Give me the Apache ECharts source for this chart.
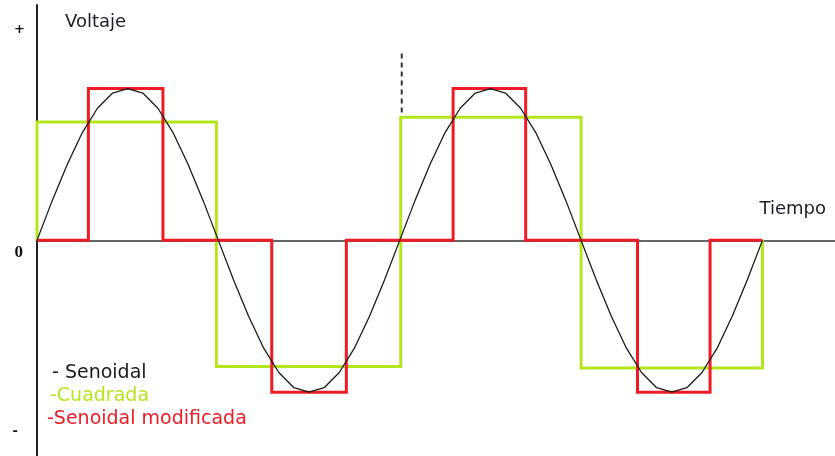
<!DOCTYPE html>
<html>
<head>
<meta charset="utf-8">
<title>Voltaje / Tiempo</title>
<script src="https://cdn.jsdelivr.net/npm/echarts@6/dist/echarts.min.js"></script>
<style>
  html, body { margin: 0; background: #fff; }
  #chart { width: 835px; height: 456px; }
</style>
</head>
<body>
<div id="chart"></div>
<script>
// time in degrees, voltage in units of the sine peak
const sineTime = [0, 15, 30, 45, 60, 75, 90, 105, 120, 135, 150, 165, 180,
  195, 210, 225, 240, 255, 270, 285, 300, 315, 330, 345, 360,
  375, 390, 405, 420, 435, 450, 465, 480, 495, 510, 525, 540,
  555, 570, 585, 600, 615, 630, 645, 660, 675, 690, 705, 720]
const sineVolt = [0, 0.26, 0.5, 0.71, 0.87, 0.97, 1, 0.97, 0.87, 0.71, 0.5, 0.26, 0,
  -0.26, -0.5, -0.71, -0.87, -0.97, -1, -0.97, -0.87, -0.71, -0.5, -0.26, 0,
  0.26, 0.5, 0.71, 0.87, 0.97, 1, 0.97, 0.87, 0.71, 0.5, 0.26, 0,
  -0.26, -0.5, -0.71, -0.87, -0.97, -1, -0.97, -0.87, -0.71, -0.5, -0.26, 0]

const squareTime = [0, 0, 178, 178, 361, 361, 540, 540, 720, 720]
const squareVolt = [0, 0.78, 0.78, -0.83, -0.83, 0.81, 0.81, -0.84, -0.84, 0]

const modTime = [0, 51, 51, 125, 125, 233, 233, 307, 307, 413, 413, 485, 485, 596, 596, 668, 668, 720]
const modVolt = [0, 0, 1, 1, 0, 0, -1, -1, 0, 0, 1, 1, 0, 0, -1, -1, 0, 0]

const markTime = [362, 362]
const markVolt = [1.23, 0.83]

const seriesNames = ['Senoidal', 'Cuadrada', 'Senoidal modificada']
const legendPrefix = ['- ', '-', '-']
const seriesColors = ['#1a1a1a', '#b5e61d', '#ed1c24']

const yTickValues = [1.385, -0.083, -1.26]
const yTickLabels = ['+', '0', '-']
const yTickStyles = ['p', 'z', 'm']

const zip = (xs, ys) => xs.map((x, i) => [x, ys[i]])

const chart = echarts.init(document.getElementById('chart'))

const option = {
  animation: false,
  backgroundColor: '#fff',
  grid: { left: 37, right: 0, top: 5, bottom: 0 },
  legend: {
    orient: 'vertical',
    left: 37,
    top: 358,
    icon: 'none',
    itemWidth: 0,
    itemHeight: 14,
    itemGap: 3,
    selectedMode: false,
    data: seriesNames.map((name, i) => ({
      name,
      textStyle: { color: seriesColors[i], padding: [0, 0, 0, [5, 3, 0][i]] }
    })),
    formatter: (name) => legendPrefix[seriesNames.indexOf(name)] + name,
    textStyle: { fontFamily: 'DejaVu Sans', fontSize: 19, lineHeight: 20 }
  },
  xAxis: {
    type: 'value',
    min: 0,
    max: 792,
    name: 'Tiempo',
    nameLocation: 'end',
    nameGap: -9,
    nameTextStyle: {
      fontFamily: 'DejaVu Sans',
      fontSize: 18,
      color: '#1c1c2c',
      align: 'right',
      verticalAlign: 'bottom',
      padding: [0, 0, 22, 0]
    },
    axisLine: { show: true, onZero: true, lineStyle: { color: '#333', width: 1.5 } },
    axisTick: { show: false },
    axisLabel: { show: false },
    splitLine: { show: false }
  },
  yAxis: {
    type: 'value',
    min: -1.42,
    max: 1.55,
    name: 'Voltaje',
    nameLocation: 'end',
    nameGap: -17,
    nameTextStyle: {
      fontFamily: 'DejaVu Sans',
      fontSize: 18,
      color: '#1c1c2c',
      align: 'left',
      verticalAlign: 'middle',
      padding: [0, 0, 0, 28]
    },
    axisLine: { show: true, lineStyle: { color: '#222', width: 2 } },
    axisTick: { show: false },
    splitLine: { show: false },
    axisLabel: {
      customValues: yTickValues,
      margin: 12,
      formatter: (v) => {
        const i = yTickValues.findIndex(t => Math.abs(t - v) < 1e-6)
        return i < 0 ? '' : '{' + yTickStyles[i] + '|' + yTickLabels[i] + '}'
      },
      rich: {
        p: { fontFamily: 'DejaVu Sans', fontSize: 13, fontWeight: 'bold', color: '#111' },
        z: { fontFamily: 'Liberation Serif', fontSize: 17, fontWeight: 'bold', color: '#111', padding: [0, 2, 0, 0] },
        m: { fontFamily: 'DejaVu Sans', fontSize: 13, fontWeight: 'bold', color: '#111', padding: [0, 7, 0, 0] }
      }
    }
  },
  series: [
    {
      name: seriesNames[1],
      type: 'line',
      data: zip(squareTime, squareVolt),
      showSymbol: false,
      lineStyle: { color: seriesColors[1], width: 3, join: 'miter' },
      itemStyle: { color: seriesColors[1] },
      z: 2
    },
    {
      name: seriesNames[2],
      type: 'line',
      data: zip(modTime, modVolt),
      showSymbol: false,
      lineStyle: { color: seriesColors[2], width: 3, join: 'miter' },
      itemStyle: { color: seriesColors[2] },
      z: 3
    },
    {
      name: seriesNames[0],
      type: 'line',
      data: zip(sineTime, sineVolt),
      showSymbol: false,
      lineStyle: { color: seriesColors[0], width: 1.3 },
      itemStyle: { color: seriesColors[0] },
      z: 4
    },
    {
      name: 'marca',
      type: 'line',
      data: zip(markTime, markVolt),
      showSymbol: false,
      lineStyle: { color: '#333', width: 2, type: [5, 4] },
      z: 4
    }
  ]
}

chart.setOption(option)
window.addEventListener('resize', () => chart.resize())
</script>
</body>
</html>
